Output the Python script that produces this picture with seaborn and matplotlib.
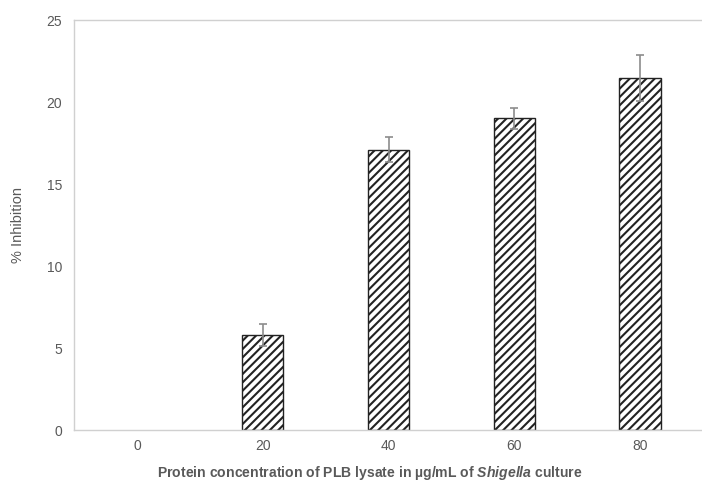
import matplotlib
matplotlib.use("Agg")
import matplotlib.pyplot as plt
import seaborn as sns
import pandas as pd
import numpy as np

# 浓度 (µg/mL) 和抑制率
concentrations = ["0", "20", "40", "60", "80"]
inhibition = [0.0, 5.8, 17.1, 19.0, 21.45]
errors = [0.0, 0.65, 0.78, 0.65, 1.4]

sns.set_style("white")
plt.rcParams['font.family'] = ['Liberation Sans', 'DejaVu Sans']
plt.rcParams['mathtext.fontset'] = 'custom'
plt.rcParams['mathtext.rm'] = 'Liberation Sans'
plt.rcParams['mathtext.bfit'] = 'Liberation Sans:italic:bold'
plt.rcParams['hatch.linewidth'] = 1.5
plt.rcParams['hatch.color'] = 'black'

df = pd.DataFrame({"conc": concentrations, "inhib": inhibition})

fig = plt.figure(figsize=(7.02, 4.82), dpi=100)
ax = fig.add_axes([74 / 702, 1 - 430 / 482, 629 / 702, 410 / 482])

sns.barplot(data=df, x="conc", y="inhib", order=concentrations, width=0.33,
            color="white", edgecolor="#222222", linewidth=1.0, hatch="////",
            errorbar=None, ax=ax)
# 0 值的柱子不画边框
for p, v in zip(ax.patches, inhibition):
    if v == 0:
        p.set_linewidth(0)

# 误差线（只画有值的）
xs = np.arange(len(concentrations))
mask = np.array(errors) > 0
ax.errorbar(xs[mask], np.array(inhibition)[mask], yerr=np.array(errors)[mask],
            fmt="none", ecolor="#8c8c8c", elinewidth=1.2, capsize=3, capthick=1.2)

ax.set_xlim(-0.5, 4.5)
ax.set_ylim(0, 25)
ax.set_yticks([0, 5, 10, 15, 20, 25])

for s in ["left", "top", "bottom"]:
    ax.spines[s].set_color("#d0d0d0")
    ax.spines[s].set_linewidth(1.0)
ax.spines["right"].set_visible(False)

ax.tick_params(axis="both", length=0, colors="#595959", labelsize=10)
ax.tick_params(axis="x", pad=6.5)
ax.tick_params(axis="y", pad=8.6)

ax.set_ylabel("% Inhibition", color="#595959", fontsize=10.5, va="center")
ax.yaxis.set_label_coords(-0.089, 0.5)
ax.set_xlabel(r"Protein concentration of PLB lysate in µg/mL of $\mathbfit{Shigella}$ culture",
              color="#595959", fontsize=10.1, fontweight="bold", va="center")
ax.xaxis.set_label_coords(0.47, -0.105)

fig.savefig("out.png", dpi=100)
